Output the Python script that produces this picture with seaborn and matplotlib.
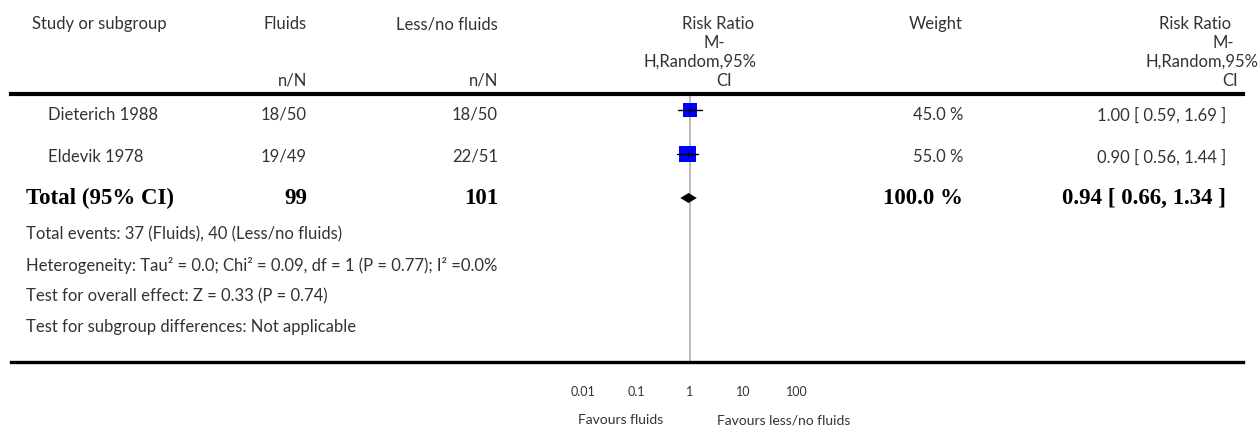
import numpy as np
import pandas as pd
import matplotlib
matplotlib.use("Agg")
import matplotlib.pyplot as plt
import seaborn as sns

# ---------------- data ----------------
studies = ["Dieterich 1988", "Eldevik 1978"]
fluids_n = [18, 19]
fluids_N = [50, 49]
less_n = [18, 22]
less_N = [50, 51]
rr = [1.00, 0.90]
ci_low = [0.59, 0.56]
ci_high = [1.69, 1.44]
weights = [45.0, 55.0]
total_label = "Total (95% CI)"
total_fluids = 99
total_less = 101
total_weight = 100.0
total_rr = 0.94
total_low = 0.66
total_high = 1.34
tick_values = [0.01, 0.1, 1, 10, 100]
tick_labels = ["0.01", "0.1", "1", "10", "100"]
rr_header = ["Risk Ratio", "M-", "H,Random,95%", "CI"]
footer_lines = [
    "Total events: 37 (Fluids), 40 (Less/no fluids)",
    "Heterogeneity: Tau\u00b2 = 0.0; Chi\u00b2 = 0.09, df = 1 (P = 0.77); I\u00b2 =0.0%",
    "Test for overall effect: Z = 0.33 (P = 0.74)",
    "Test for subgroup differences: Not applicable",
]
favours_left = "Favours fluids"
favours_right = "Favours less/no fluids"

# ---------------- style ----------------
sns.set_theme(style="white")
plt.rcParams["font.family"] = ["Lato", "DejaVu Sans"]
TXT = "#333333"
FS = 12
BFS = 16.5
SERIF = ["Liberation Serif", "DejaVu Serif"]

W, H = 1259, 429
fig = plt.figure(figsize=(W / 100, H / 100), dpi=100)
fig.patch.set_facecolor("white")

# overlay axes in pixel coordinates for the table text
tx = fig.add_axes([0, 0, 1, 1])
tx.set_xlim(0, W)
tx.set_ylim(H, 0)
tx.axis("off")

# forest axes: log scale, value 1 at pixel 690, ~53.5 px per decade
LINE_L, LINE_R = 11, 1243
Y_TOP, Y_BOT = 94, 362
PX_DEC = 53.5
X1 = 690
xlo = 10 ** ((LINE_L - X1) / PX_DEC)
xhi = 10 ** ((LINE_R - X1) / PX_DEC)
ax = fig.add_axes([LINE_L / W, (H - Y_BOT) / H, (LINE_R - LINE_L) / W, (Y_BOT - Y_TOP) / H])
ax.set_xscale("log")
ax.set_xlim(xlo, xhi)
ax.set_ylim(Y_BOT, Y_TOP)
ax.patch.set_alpha(0)

# row layout (pixel rows)
row_mark = [110, 154]
row_text = [115, 157]
row_total = 198
foot_y = [234, 265, 296, 327]

# reference line at 1
ax.axvline(1, color="#b5b5b5", lw=1.3, zorder=1)

# study squares
df = pd.DataFrame({"rr": rr, "y": row_mark, "w": weights})
sns.scatterplot(data=df, x="rr", y="y", size="w", sizes=(88, 140), size_norm=(45, 55),
                marker="s", color="#0000ff", edgecolor="none", legend=False, ax=ax, zorder=3)
# whiskers
for lo, hi, est, y in zip(ci_low, ci_high, rr, row_mark):
    ax.plot([lo, hi], [y, y], color="black", lw=1.0, zorder=4)
    ax.plot([est, est], [y - 3, y + 3], color="black", lw=0.8, zorder=4)

# diamond for total
ax.fill([total_low, total_rr, total_high, total_rr],
        [row_total, row_total - 5, row_total, row_total + 5],
        color="black", zorder=4, lw=0)

# spines / ticks
for s in ["left", "right"]:
    ax.spines[s].set_visible(False)
ax.spines["top"].set_linewidth(3.0)
ax.spines["bottom"].set_linewidth(2.4)
ax.spines["top"].set_color("black")
ax.spines["bottom"].set_color("black")
ax.set_yticks([])
ax.set_xticks(tick_values)
ax.set_xticklabels(tick_labels)
ax.minorticks_off()
ax.tick_params(axis="x", which="major", direction="in", length=5, width=1.8,
               color="black", pad=17, labelsize=9, labelcolor=TXT)
ax.set_xlabel("")
ax.set_ylabel("")

# favours labels (placed on the log scale around 1)
ax.text(10 ** (-27 / PX_DEC), 420, favours_left, ha="right", va="center",
        fontsize=10, color=TXT, clip_on=False)
ax.text(10 ** (27 / PX_DEC), 420, favours_right, ha="left", va="center",
        fontsize=10, color=TXT, clip_on=False)

# ---------------- header text ----------------
hy = [24, 43, 62, 81]
tx.text(32, hy[0], "Study or subgroup", ha="left", va="center", fontsize=FS, color=TXT)
tx.text(307, hy[0], "Fluids", ha="right", va="center", fontsize=FS, color=TXT)
tx.text(498, hy[0], "Less/no fluids", ha="right", va="center", fontsize=FS, color=TXT)
tx.text(307, hy[3], "n/N", ha="right", va="center", fontsize=FS, color=TXT)
tx.text(498, hy[3], "n/N", ha="right", va="center", fontsize=FS, color=TXT)
for t, y, xc in zip(rr_header, hy, [718, 714, 700, 724]):
    tx.text(xc, y, t, ha="center", va="center", fontsize=FS, color=TXT)
for t, y, xc in zip(rr_header, hy, [1195, 1223, 1202, 1230]):
    tx.text(xc, y, t, ha="center", va="center", fontsize=FS, color=TXT)
tx.text(963, hy[0], "Weight", ha="right", va="center", fontsize=FS, color=TXT)

# ---------------- study rows ----------------
RX = 1226
for i, name in enumerate(studies):
    y = row_text[i]
    tx.text(48, y, name, ha="left", va="center", fontsize=FS, color=TXT)
    tx.text(307, y, f"{fluids_n[i]}/{fluids_N[i]}", ha="right", va="center", fontsize=FS, color=TXT)
    tx.text(498, y, f"{less_n[i]}/{less_N[i]}", ha="right", va="center", fontsize=FS, color=TXT)
    tx.text(963, y, f"{weights[i]:.1f} %", ha="right", va="center", fontsize=FS, color=TXT)
    tx.text(RX, y, f"{rr[i]:.2f} [ {ci_low[i]:.2f}, {ci_high[i]:.2f} ]",
            ha="right", va="center", fontsize=FS, color=TXT)

# ---------------- total row ----------------
ty = row_total
bold = dict(va="center", fontsize=BFS, fontweight="bold", family=SERIF, color="black")
tx.text(26, ty, total_label, ha="left", **bold)
tx.text(307, ty, f"{total_fluids}", ha="right", **bold)
tx.text(498, ty, f"{total_less}", ha="right", **bold)
tx.text(963, ty, f"{total_weight:.1f} %", ha="right", **bold)
tx.text(RX, ty, f"{total_rr:.2f} [ {total_low:.2f}, {total_high:.2f} ]", ha="right", **bold)

# ---------------- footer text ----------------
for t, y in zip(footer_lines, foot_y):
    tx.text(26, y, t, ha="left", va="center", fontsize=FS, color=TXT)

fig.savefig("out.png", dpi=100, facecolor="white")
